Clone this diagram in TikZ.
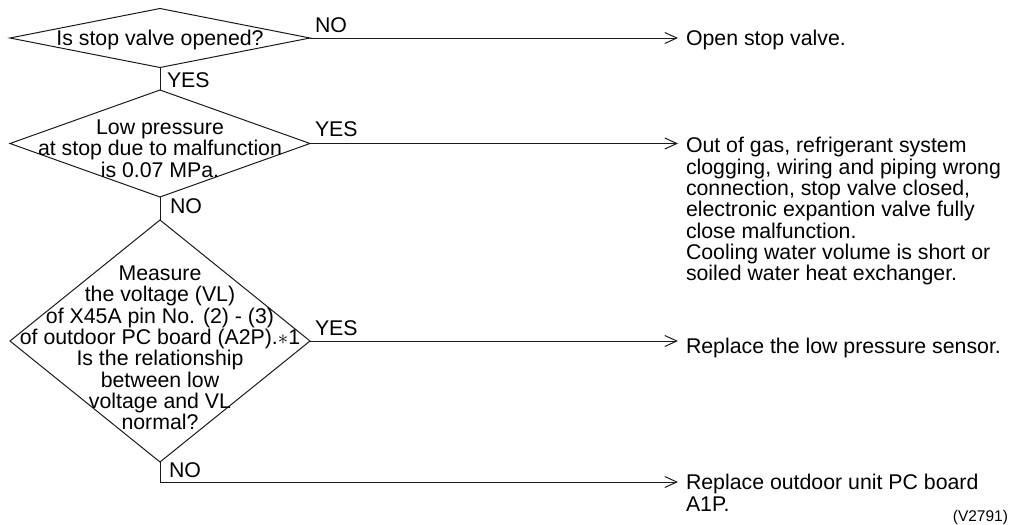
\documentclass[tikz,border=0pt]{standalone}
\usepackage{fontspec}
\setmainfont{Liberation Sans}
\usetikzlibrary{shapes.geometric,arrows.meta,calc}
\definecolor{tintaN}{HTML}{1A1A1A}

\begin{document}
\begin{tikzpicture}[x=1pt,y=-1pt,
    every node/.style={font={\fontsize{21.3}{21.3}\selectfont}, inner sep=0pt, outer sep=0pt},
    decision/.style={diamond, draw=tintaN, line width=1pt, minimum width=300pt},
    qtext/.style={align=center},
    res/.style={align=left, anchor=north west},
    lab/.style={anchor=base west},
    lin/.style={draw=tintaN, line width=1pt},
    arr/.style={lin, -{Straight Barb[length=12pt,width=11pt]}, shorten >=8pt}]
  \useasboundingbox (0,0) rectangle (1013,525);

  % preguntas
  \node[decision, minimum height=59pt]  (q1) at (160,38)    {};
  \node[decision, minimum height=107pt] (q2) at (160,143.5) {};
  \node[decision, minimum height=242pt] (q3) at (160,341)   {};
  \node[qtext] (t1) at (160,39.5)  {Is stop valve opened?};
  \node[qtext] (t2) at (160,148.5) {Low pressure\\at stop due to malfunction\\is 0.07 MPa.};
  \node[qtext] (t3) at (160,348)   {Measure\\the voltage (VL)\\of X45A pin No. (2) - (3)\\
    of outdoor PC board (A2P).$\ast$1\\Is the relationship\\between low\\voltage and VL\\normal?};

  % acciones
  \node[anchor=base west] (a1) at (686,45) {Open stop valve.};
  \node[res] (a2) at (686,137.5) {Out of gas, refrigerant system\\clogging, wiring and piping wrong\\
    connection, stop valve closed,\\electronic expantion valve fully\\close malfunction.\\
    Cooling water volume is short or\\soiled water heat exchanger.};
  \node[anchor=base west] (a3) at (686,353) {Replace the low pressure sensor.};
  \node[res] (a4) at (686,474.5) {Replace outdoor unit PC board\\A1P.};
  \node[anchor=base east, font={\fontsize{15.5}{15.5}\selectfont}] (ref) at (1008,521) {(V2791)};

  % conexiones
  \draw[lin] (q1.south) -- (q2.north);
  \draw[lin] (q2.south) -- (q3.north);
  \draw[arr] (q1.east) -- (q1.east -| a1.west);
  \draw[arr] (q2.east) -- (q2.east -| a2.west);
  \draw[arr] (q3.east) -- (q3.east -| a3.west);
  \coordinate (k3) at ($(q3.south)+(0,20)$);
  \draw[arr] (q3.south) -- (k3) -- (k3 -| a4.west);

  % etiquetas SI / NO
  \node[lab] (n1) at ($(q1.east)+(5,-6)$)   {NO};
  \node[lab] (y1) at ($(q1.south)+(7,20)$)  {YES};
  \node[lab] (y2) at ($(q2.east)+(5,-7.5)$) {YES};
  \node[lab] (n2) at ($(q2.south)+(10,16)$) {NO};
  \node[lab] (y3) at ($(q3.east)+(5,-6)$)   {YES};
  \node[lab] (n3) at ($(q3.south)+(9,15)$)  {NO};
\end{tikzpicture}
\end{document}
